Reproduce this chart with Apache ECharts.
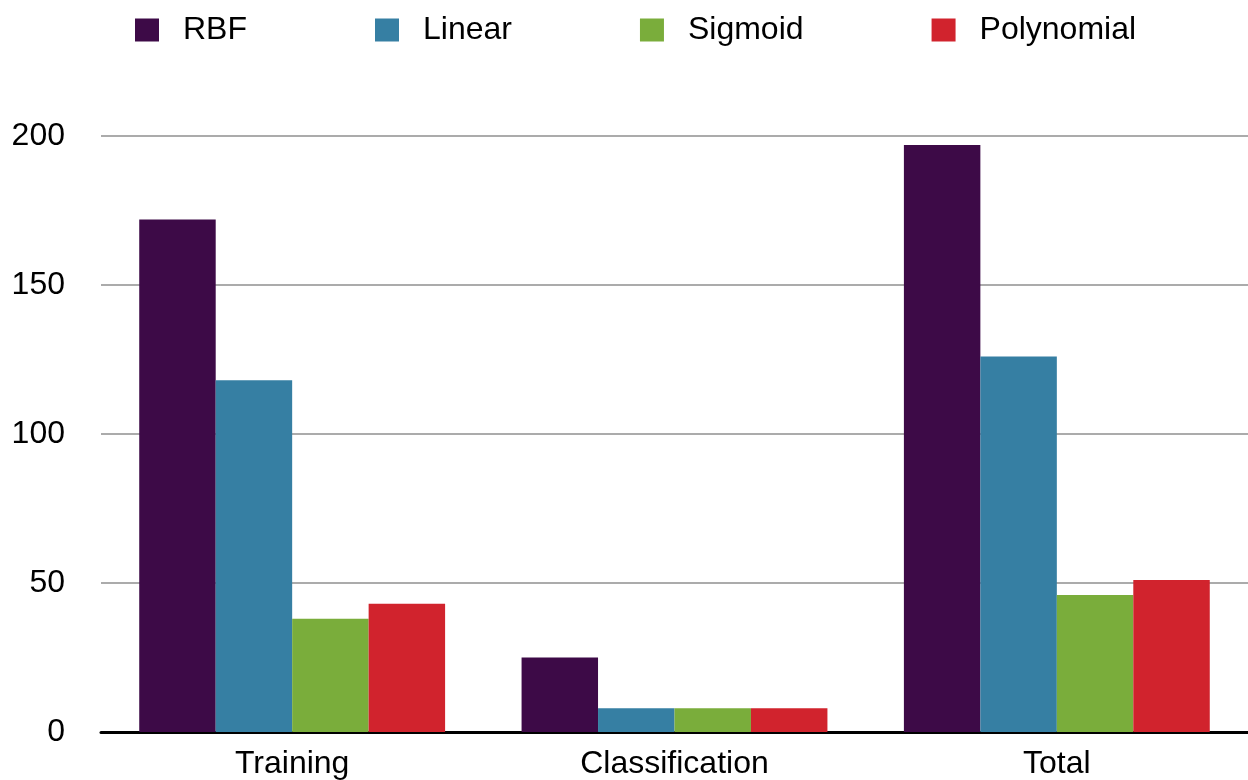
<!DOCTYPE html>
<html>
<head>
<meta charset="utf-8">
<script src="https://cdn.jsdelivr.net/npm/echarts@6/dist/echarts.min.js"></script>
<style>
  html, body { margin: 0; padding: 0; background: #fff; }
  #chart { width: 1248px; height: 780px; }
</style>
</head>
<body>
<div id="chart"></div>
<script>
// Run time by kernel type, split into phases
const categories = ['Training', 'Classification', 'Total'];
const rbf = [172, 25, 197];
const linear = [118, 8, 126];
const sigmoid = [38, 8, 46];
const polynomial = [43, 8, 51];
const yTicks = [0, 50, 100, 150, 200];

const FONT = '"Liberation Sans", Arial, Helvetica, sans-serif';

const chart = echarts.init(document.getElementById('chart'));

function barSeries(name, data, color) {
  return {
    name: name,
    type: 'bar',
    data: data,
    barGap: '0%',
    barCategoryGap: '20%',
    itemStyle: { color: color },
    emphasis: { disabled: true }
  };
}

chart.setOption({
  animation: false,
  legend: {
    top: 9,
    left: 130,
    itemWidth: 24,
    itemHeight: 23,
    itemGap: 128,
    icon: 'rect',
    textStyle: { fontFamily: FONT, fontSize: 32, color: '#000', padding: [0, 0, 0, 19] },
    data: ['RBF', 'Linear', 'Sigmoid', 'Polynomial']
  },
  grid: { left: 101, right: 0, top: 136, bottom: 47, containLabel: false },
  xAxis: {
    type: 'category',
    data: categories,
    axisLine: { show: true, lineStyle: { color: '#000', width: 3 } },
    axisTick: { show: false },
    axisLabel: { fontFamily: FONT, fontSize: 32, color: '#000', margin: 16 }
  },
  yAxis: {
    type: 'value',
    min: yTicks[0],
    max: yTicks[yTicks.length - 1],
    interval: 50,
    axisLine: { show: false },
    axisTick: { show: false },
    axisLabel: { fontFamily: FONT, fontSize: 32, color: '#000', margin: 36 },
    splitLine: { lineStyle: { color: '#ababab', width: 2 } }
  },
  series: [
    barSeries('RBF', rbf, '#3d0a47'),
    barSeries('Linear', linear, '#367fa3'),
    barSeries('Sigmoid', sigmoid, '#7aad3b'),
    barSeries('Polynomial', polynomial, '#d1232d')
  ]
});
</script>
</body>
</html>
